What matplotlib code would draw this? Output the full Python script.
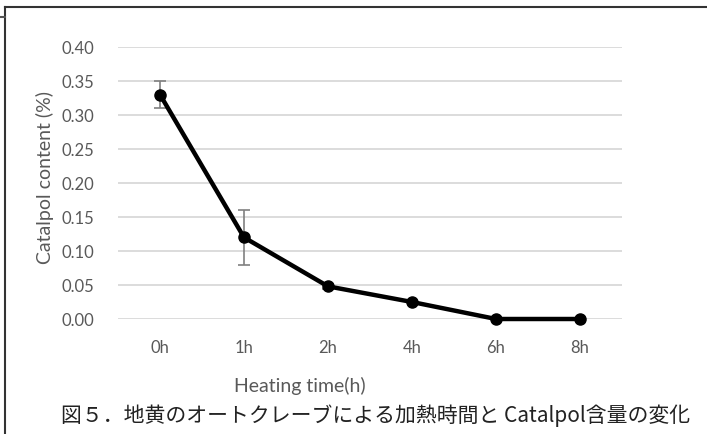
import matplotlib.pyplot as plt
from matplotlib.lines import Line2D

# 加熱時間とCatalpol含量
times = ['0h', '1h', '2h', '4h', '6h', '8h']
content = [0.33, 0.12, 0.048, 0.025, 0.0, 0.0]
err = [0.02, 0.04, 0.004, 0.0, 0.0, 0.0]
yticks = [0.0, 0.05, 0.10, 0.15, 0.20, 0.25, 0.30, 0.35, 0.40]

fig = plt.figure(figsize=(7.07, 4.34), dpi=100)
ax = fig.add_axes([118 / 707, 1 - 319 / 434, 504 / 707, 272 / 434])

x = list(range(len(times)))
ax.errorbar(x, content, yerr=err, fmt='none', ecolor='#808080', elinewidth=1.2,
            capsize=4, capthick=1.2, zorder=2)
ax.plot(x, content, color='black', lw=3.2, marker='o', ms=8, zorder=3, clip_on=False)

ax.set_xlim(-0.5, len(times) - 0.5)
ax.set_ylim(0, 0.40)
ax.set_xticks(x)
ax.set_xticklabels(times)
ax.set_yticks(yticks)
ax.set_yticklabels([f'{v:.2f}' for v in yticks])
ax.grid(axis='y', color='#d9d9d9', lw=1.3)
ax.set_axisbelow(True)
for s in ax.spines.values():
    s.set_visible(False)
ax.tick_params(length=0, labelsize=12, labelcolor='#595959')
ax.tick_params(axis='y', pad=17)
ax.tick_params(axis='x', pad=15)
for lab in ax.get_xticklabels() + ax.get_yticklabels():
    lab.set_family('Lato')

fig.text(45 / 707, 1 - 177 / 434, 'Catalpol content (%)', rotation=90, ha='center',
         va='center', fontsize=14, color='#595959', family='Lato')
fig.text(300 / 707, 1 - 386 / 434, 'Heating time(h)', ha='center', va='center',
         fontsize=14, color='#595959', family='Lato')
fig.text(376 / 707, 1 - 416 / 434, '図５．地黄のオートクレーブによる加熱時間と Catalpol含量の変化',
         ha='center', va='center', fontsize=15, color='#222222',
         family=['Noto Sans CJK JP', 'DejaVu Sans'])

# 枠線
fig.add_artist(Line2D([5 / 707, 5 / 707], [0, 1 - 7 / 434], color='#333333', lw=1.5))
fig.add_artist(Line2D([5 / 707, 1], [1 - 7 / 434, 1 - 7 / 434], color='#333333', lw=1.5))
fig.add_artist(Line2D([0, 5 / 707], [1 - 17 / 434, 1 - 17 / 434], color='#555555', lw=1.5))

fig.savefig('out.png', dpi=100)
